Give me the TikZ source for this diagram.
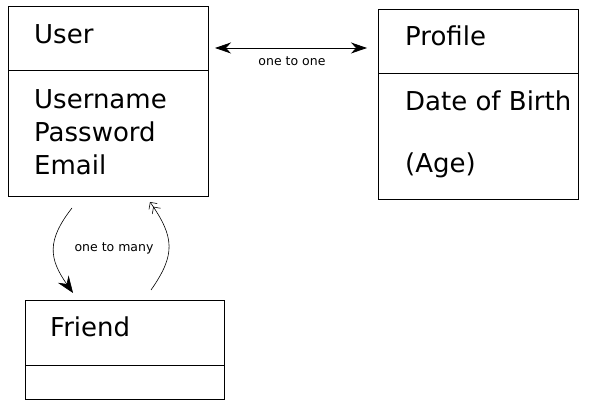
\documentclass[tikz,border=0pt]{standalone}
\usepackage{fontspec}
\setmainfont{DejaVu Sans}
\usetikzlibrary{arrows.meta,positioning}
\tikzset{
  box/.style={draw, line width=0.8pt, inner sep=0pt, outer sep=0pt, anchor=north west},
  attr/.style={anchor=base west, inner sep=0pt, font=\fontsize{26}{31}\selectfont},
  rel/.style={anchor=base, inner sep=0pt, font=\fontsize{12.5}{15}\selectfont},
}
\begin{document}
\begin{tikzpicture}[x=1pt,y=1pt]
          \useasboundingbox (0,0) rectangle (594,414);
          % user
          \node[box, minimum width=200pt, minimum height=64pt] (usertop) at (8,408) {};
          \node[box, minimum width=200pt, minimum height=126pt, below=0pt of usertop] (userbody) {};
          \node[attr] (user) at (34,370) {User};
          \node[attr] (username) at (34,305) {Username};
          \node[attr] (password) at (34,272) {Password};
          \node[attr] (email) at (34,239) {Email};
          % profile
          \node[box, minimum width=200pt, minimum height=64pt] (profiletop) at (378,405) {};
          \node[box, minimum width=200pt, minimum height=126pt, below=0pt of profiletop] (profilebody) {};
          \node[attr] (profile) at (405,368) {Profile};
          \node[attr] (birth) at (405,303) {Date of Birth};
          \node[attr] (age) at (405,241) {(Age)};
          % friend
          \node[box, minimum width=199pt, minimum height=65pt] (friendtop) at (25,114) {};
          \node[box, minimum width=199pt, minimum height=34pt, below=0pt of friendtop] (friendbody) {};
          \node[attr] (friend) at (50,77) {Friend};
          % relations
          \coordinate (oneL) at (215,366);
          \coordinate (oneR) at (367,366);
          \draw[line width=0.7pt, {Stealth[length=16pt,width=11pt,inset=5pt]}-{Stealth[length=16pt,width=11pt,inset=5pt]}] (oneL) -- (oneR);
          \node[rel] (onetoone) at (292,348) {one to one};
          \coordinate (manyA) at (72,206);
          \coordinate (manyB) at (73,121);
          \coordinate (manyC) at (151,124);
          \coordinate (manyD) at (150,212);
          \draw[line width=0.6pt, -{Stealth[length=17pt,width=13pt,inset=6pt]}] (manyA) to[out=-128, in=125, looseness=1.25] (manyB);
          \draw[line width=0.6pt, -{Straight Barb[length=5pt,width=10pt] Straight Barb[length=5pt,width=10pt]}] (manyC) to[out=55, in=-55, looseness=1.25] (manyD);
          \node[rel] (onetomany) at (114,162) {one to many};
\end{tikzpicture}
\end{document}
